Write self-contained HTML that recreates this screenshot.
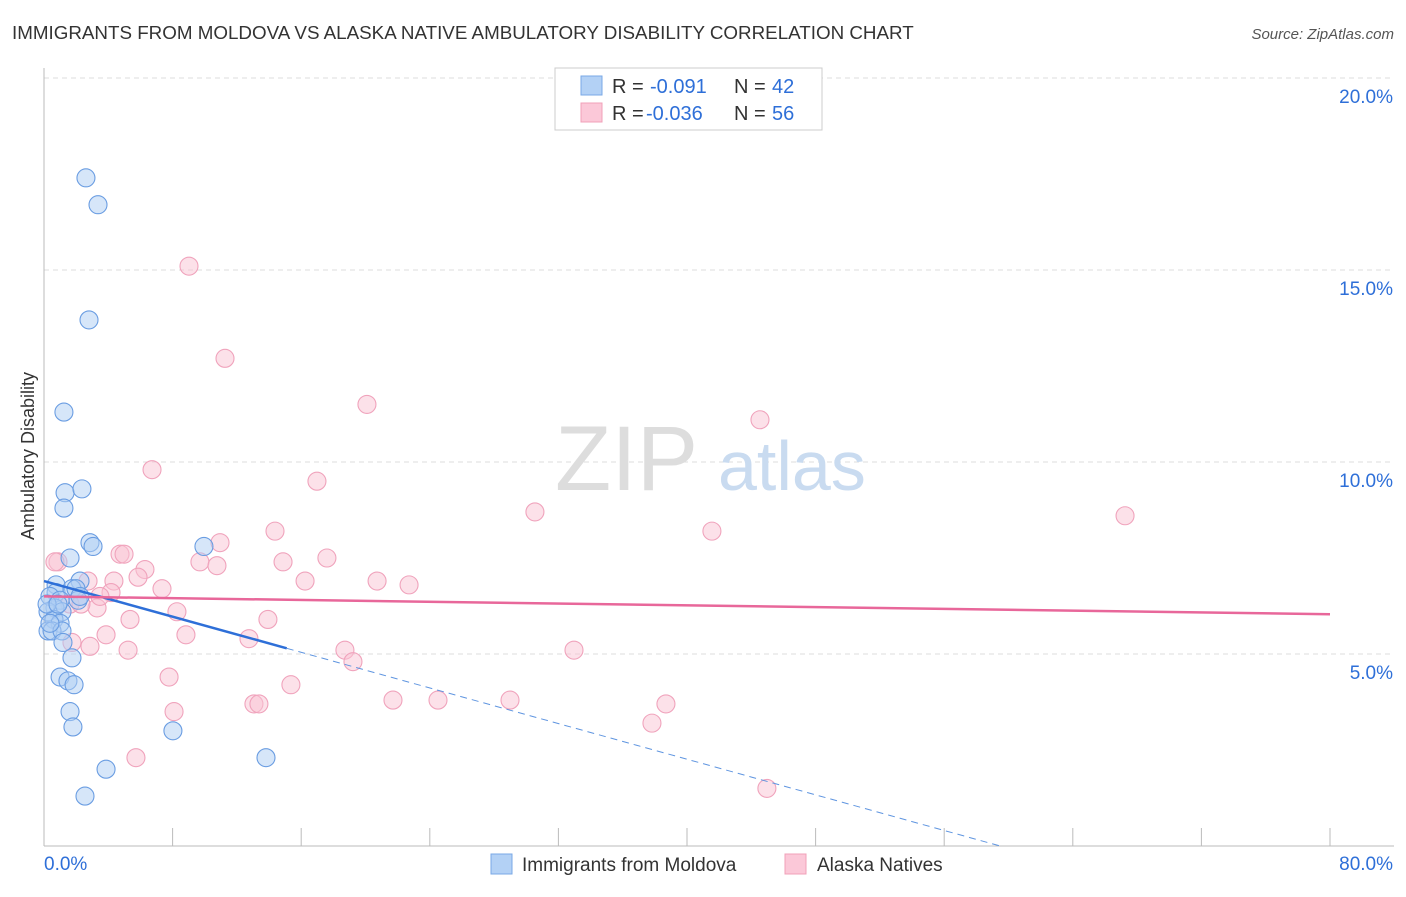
<!DOCTYPE html>
<html><head><meta charset="utf-8"><style>
body{margin:0;background:#fff;font-family:"Liberation Sans",sans-serif;}
svg text{font-family:"Liberation Sans",sans-serif;}
</style></head><body>
<svg id="chart" width="1406" height="892" xmlns="http://www.w3.org/2000/svg">
<text x="12" y="39" font-size="18.8" fill="#333">IMMIGRANTS FROM MOLDOVA VS ALASKA NATIVE AMBULATORY DISABILITY CORRELATION CHART</text>
<text x="1394" y="39" font-size="15" fill="#555" text-anchor="end" font-style="italic">Source: ZipAtlas.com</text>
<g id="grid"></g>
<text x="555" y="490" font-size="92" fill="#ddd" font-family="Liberation Serif" >ZIP</text>
<text x="718" y="490" font-size="70" fill="#c9dbf0">atlas</text>
<g id="axes"></g>
<g id="marks"></g>
<text transform="translate(34,456) rotate(-90)" font-size="18" fill="#333" text-anchor="middle">Ambulatory Disability</text>
<g>
<rect x="555" y="68" width="267" height="62" fill="#fff" stroke="#ccc"/>
<rect x="581" y="76" width="21" height="19" fill="#b3d1f5" stroke="#7aa8e6"/>
<rect x="581" y="103" width="21" height="19" fill="#fbc8d8" stroke="#f0a0b8"/>
<text x="612" y="93" font-size="20" fill="#333">R = </text><text x="650" y="93" font-size="20" fill="#2e6fd8">-0.091</text>
<text x="734" y="93" font-size="20" fill="#333">N = </text><text x="772" y="93" font-size="20" fill="#2e6fd8">42</text>
<text x="612" y="120" font-size="20" fill="#333">R = </text><text x="646" y="120" font-size="20" fill="#2e6fd8">-0.036</text>
<text x="734" y="120" font-size="20" fill="#333">N = </text><text x="772" y="120" font-size="20" fill="#2e6fd8">56</text>
</g>
<g>
<rect x="491" y="854" width="21" height="20" fill="#b3d1f5" stroke="#7aa8e6"/>
<text x="522" y="871" font-size="19" fill="#333">Immigrants from Moldova</text>
<rect x="785" y="854" width="21" height="20" fill="#fbc8d8" stroke="#f0a0b8"/>
<text x="817" y="871" font-size="19" fill="#333">Alaska Natives</text>
</g>
</svg>
<script>
const yTicks=[5,10,15,20];
const xTickCount=[0,8,16,24,32,40,48,56,64,72,80];
const blueX=[2.61,3.36,2.80,1.24,1.31,2.36,1.24,2.86,3.05,9.95,1.62,0.75,2.24,0.75,1.74,1.99,0.37,1.00,2.12,0.68,1.12,0.25,0.62,1.00,0.25,0.50,1.12,1.18,1.74,1.00,1.49,1.87,1.62,1.80,8.02,3.86,13.81,2.55,0.19,0.87,2.24,0.37];
const blueY=[17.4,16.7,13.7,11.3,9.2,9.3,8.8,7.9,7.8,7.8,7.5,6.8,6.9,6.6,6.7,6.7,6.5,6.4,6.4,6.2,6.1,6.1,5.9,5.8,5.6,5.6,5.6,5.3,4.9,4.4,4.3,4.2,3.5,3.1,3.0,2.0,2.3,1.3,6.3,6.3,6.5,5.8];
const pinkX=[9.02,11.26,20.09,44.54,6.72,16.98,30.54,67.25,41.55,14.37,10.95,17.60,4.73,4.98,0.87,14.87,6.28,9.70,10.76,5.85,16.24,20.72,22.71,7.34,4.35,2.74,4.17,0.68,1.62,3.30,8.27,2.30,5.35,13.93,8.83,3.86,12.75,2.86,5.23,18.72,32.97,19.22,7.78,15.36,21.71,24.51,28.99,38.69,8.09,13.06,13.37,37.82,5.72,44.97,1.74,3.48];
const pinkY=[15.1,12.7,11.5,11.1,9.8,9.5,8.7,8.6,8.2,8.2,7.9,7.5,7.6,7.6,7.4,7.4,7.2,7.4,7.3,7.0,6.9,6.9,6.8,6.7,6.9,6.9,6.6,7.4,6.3,6.2,6.1,6.3,5.9,5.9,5.5,5.5,5.4,5.2,5.1,5.1,5.1,4.8,4.4,4.2,3.8,3.8,3.8,3.7,3.5,3.7,3.7,3.2,2.3,1.5,5.3,6.5];
const blueTrend=[6.9,-0.116];   // intercept, slope per %
const pinkTrend=[6.5,-0.0058];
const NS="http://www.w3.org/2000/svg";
const X0=44,X1=1330,Y0=846,Y20=78;
function sx(v){return X0+(X1-X0)*v/80;}
function sy(v){return Y0-(Y0-Y20)*v/20;}
function mk(tag,attrs,parent){const e=document.createElementNS(NS,tag);for(const k in attrs)e.setAttribute(k,attrs[k]);document.getElementById(parent).appendChild(e);return e;}
yTicks.forEach(t=>{
 const l=mk('line',{x1:44,x2:1394,y1:sy(t),y2:sy(t),stroke:'#ddd','stroke-dasharray':'5,4'},'grid');
 
 
 const tx=mk('text',{x:1393,y:sy(t)+25,'font-size':19,fill:'#2e6fd8','text-anchor':'end'},'grid');
 tx.textContent=t.toFixed(1)+'%';
 
 
});
const ax=mk('line',{x1:44,x2:1394,y1:846,y2:846,stroke:'#bbb'},'axes');


const ay=mk('line',{x1:44,x2:44,y1:68,y2:846,stroke:'#bbb'},'axes');


xTickCount.forEach(t=>{
 const l=mk('line',{x1:sx(t),x2:sx(t),y1:828,y2:846,stroke:'#bbb'},'axes');
 
 
});
const xl0=mk('text',{x:44,y:870,'font-size':19,fill:'#2e6fd8'},'axes');xl0.textContent='0.0%';


const xl1=mk('text',{x:1393,y:870,'font-size':19,fill:'#2e6fd8','text-anchor':'end'},'axes');xl1.textContent='80.0%';


function dots(xs,ys,fill,stroke,name){xs.forEach((x,i)=>{
 const c=mk('circle',{cx:sx(x),cy:sy(ys[i]),r:9,fill:fill,'fill-opacity':0.5,stroke:stroke,'stroke-width':1.1},'marks');
 
 
});}
dots(pinkX,pinkY,'#f9c3d4','#f0a3bc','point-alaska');
dots(blueX,blueY,'#aecdf3','#6a9de2','point-moldova');
const bx=15.1, bEnd=-blueTrend[0]/blueTrend[1];
const b1=mk('line',{x1:sx(0),y1:sy(blueTrend[0]),x2:sx(bx),y2:sy(blueTrend[0]+blueTrend[1]*bx),stroke:'#2e6fd8','stroke-width':2.5},'marks');


const b2=mk('line',{x1:sx(bx),y1:sy(blueTrend[0]+blueTrend[1]*bx),x2:sx(Math.min(bEnd,80)),y2:sy(Math.max(0,blueTrend[0]+blueTrend[1]*Math.min(bEnd,80))),stroke:'#5f95e0','stroke-width':1,'stroke-dasharray':'7,5'},'marks');


const p1=mk('line',{x1:sx(0),y1:sy(pinkTrend[0]),x2:sx(80),y2:sy(pinkTrend[0]+pinkTrend[1]*80),stroke:'#e8679a','stroke-width':2.5},'marks');


</script>
</body></html>
